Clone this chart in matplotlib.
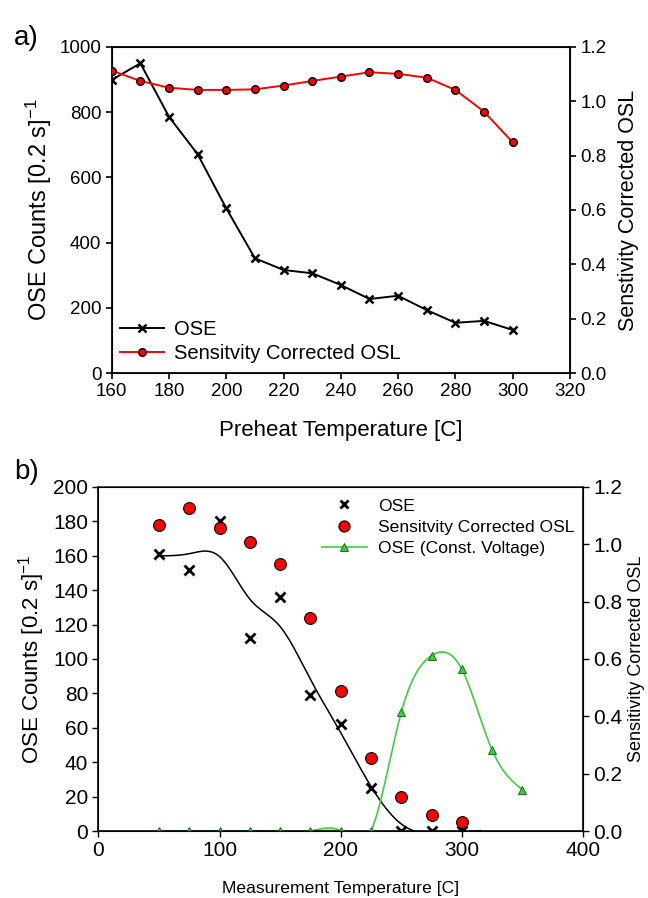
import numpy as np
import matplotlib
matplotlib.use('Agg')
import matplotlib.pyplot as plt
from matplotlib.lines import Line2D

plt.rcParams['font.family'] = ['Liberation Sans', 'DejaVu Sans']
plt.rcParams['mathtext.fontset'] = 'custom'
plt.rcParams['mathtext.rm'] = 'Liberation Sans'
plt.rcParams['mathtext.default'] = 'regular'

# ---------------- data: panel a ----------------
preheat_temp = [160, 170, 180, 190, 200, 210, 220, 230, 240, 250, 260, 270, 280, 290, 300]
ose_a = [899, 950, 786, 671, 505, 352, 316, 306, 270, 227, 237, 193, 154, 160, 132]
osl_a = [1.113, 1.075, 1.050, 1.042, 1.042, 1.044, 1.058, 1.075, 1.091, 1.107,
         1.101, 1.087, 1.042, 0.962, 0.849]

# ---------------- data: panel b ----------------
meas_temp = [50, 75, 100, 125, 150, 175, 200, 225, 250, 275, 300]
ose_b = [161, 152, 180, 112, 136, 79, 62, 25, 0, 0, 0]
osl_b = [1.067, 1.126, 1.058, 1.009, 0.932, 0.742, 0.488, 0.256, 0.120, 0.056, 0.030]
meas_temp_cv = [50, 75, 100, 125, 150, 175, 200, 225, 250, 275, 300, 325, 350]
ose_cv = [0, 0, 0, 0, 0, 0, 0, 0, 69, 102, 94, 47, 24]

xticks_a = [160, 180, 200, 220, 240, 260, 280, 300, 320]
yticks_a = [0, 200, 400, 600, 800, 1000]
y2ticks = [0.0, 0.2, 0.4, 0.6, 0.8, 1.0, 1.2]
xticks_b = [0, 100, 200, 300, 400]
yticks_b = [0, 20, 40, 60, 80, 100, 120, 140, 160, 180, 200]


def penalized_smooth(x, y, grid, lam):
    x = np.asarray(x, float)
    y = np.asarray(y, float)
    n = len(grid)
    W = np.zeros((len(x), n))
    for i, xi in enumerate(x):
        W[i, np.argmin(np.abs(grid - xi))] = 1.0
    D = np.diff(np.eye(n), 2, axis=0)
    A = W.T @ W + lam * D.T @ D
    return np.linalg.solve(A, W.T @ y)


def natural_cubic(x, y, xs):
    x = np.asarray(x, float)
    y = np.asarray(y, float)
    n = len(x)
    h = np.diff(x)
    A = np.zeros((n, n))
    b = np.zeros(n)
    A[0, 0] = A[-1, -1] = 1
    for i in range(1, n - 1):
        A[i, i - 1] = h[i - 1]
        A[i, i] = 2 * (h[i - 1] + h[i])
        A[i, i + 1] = h[i]
        b[i] = 3 * ((y[i + 1] - y[i]) / h[i] - (y[i] - y[i - 1]) / h[i - 1])
    c = np.linalg.solve(A, b)
    bc = (y[1:] - y[:-1]) / h - h * (2 * c[:-1] + c[1:]) / 3
    d = (c[1:] - c[:-1]) / (3 * h)
    idx = np.clip(np.searchsorted(x, xs) - 1, 0, n - 2)
    dx = xs - x[idx]
    return y[idx] + bc[idx] * dx + c[idx] * dx ** 2 + d[idx] * dx ** 3


fig = plt.figure(figsize=(6.48, 8.98), dpi=100)
green = '#3ccf3c'

# ================= panel a =================
ax1 = fig.add_axes([0.1724, 0.5846, 0.7072, 0.3631])
ax1.plot(preheat_temp, ose_a, color='black', lw=1.4, marker='x', ms=6, mew=1.8, zorder=3)
ax1.set_xlim(160, 320)
ax1.set_ylim(0, 1000)
ax1.set_xticks(xticks_a)
ax1.set_yticks(yticks_a)
ax1.tick_params(direction='out', length=4, width=1.2, labelsize=13.5)
ax1.set_xlabel('Preheat Temperature [C]', fontsize=16, labelpad=14)
ax1.set_ylabel('OSE Counts [0.2 s]$^{-1}$', fontsize=17, labelpad=4)
for s in ax1.spines.values():
    s.set_linewidth(1.3)

ax1r = ax1.twinx()
ax1r.plot(preheat_temp, osl_a, color='red', lw=1.4, marker='o', ms=5.5,
          mfc='red', mec='black', mew=1.0, zorder=3)
ax1r.set_ylim(0, 1.2)
ax1r.set_yticks(y2ticks)
ax1r.set_yticklabels([f'{v:.1f}' for v in y2ticks])
ax1r.tick_params(direction='out', length=4, width=1.2, labelsize=13.5)
ax1r.set_ylabel('Senstivity Corrected OSL', fontsize=15.5, labelpad=8)

h_a = [Line2D([], [], color='black', lw=1.4, marker='x', ms=6, mew=1.8),
       Line2D([], [], color='red', lw=1.4, marker='o', ms=5.5, mfc='red', mec='black', mew=1.0)]
ax1r.legend(h_a, ['OSE', 'Sensitvity Corrected OSL'], loc='lower left',
            bbox_to_anchor=(-0.022, -0.025), frameon=False, fontsize=14.5,
            handlelength=2.2, handletextpad=0.5, labelspacing=0.25)
fig.text(0.022, 0.958, 'a)', fontsize=20, ha='left', va='center')

# ================= panel b =================
ax2 = fig.add_axes([0.152, 0.0746, 0.7477, 0.3831])
grid = np.arange(50, 316, 1.0)
smooth = penalized_smooth(meas_temp, ose_b, grid, 2500.0)
ax2.plot(grid, smooth, color='black', lw=1.1, zorder=2)
gx = np.linspace(50, 350, 601)
ax2.plot(gx, natural_cubic(meas_temp_cv, ose_cv, gx), color=green, lw=1.2, zorder=2)
ax2.plot(meas_temp_cv, ose_cv, ls='none', marker='^', ms=5.5, mfc=green,
         mec='#1a6e1a', mew=0.7, zorder=3)
ax2.plot(meas_temp, ose_b, ls='none', marker='x', ms=6.5, mew=2.0, color='black', zorder=4)
ax2.set_xlim(0, 400)
ax2.set_ylim(0, 200)
ax2.set_xticks(xticks_b)
ax2.set_yticks(yticks_b)
ax2.tick_params(direction='out', length=4, width=1.0, labelsize=15)
ax2.set_xlabel('Measurement Temperature [C]', fontsize=12.6, labelpad=15)
ax2.set_ylabel('OSE Counts [0.2 s]$^{-1}$', fontsize=16, labelpad=4)
for s in ax2.spines.values():
    s.set_linewidth(1.2)
ax2.spines['top'].set_color('#333333')

ax2r = ax2.twinx()
ax2r.plot(meas_temp, osl_b, ls='none', marker='o', ms=8.5, mfc='red', mec='black', mew=0.8, zorder=3)
ax2r.set_ylim(0, 1.2)
ax2r.set_yticks(y2ticks)
ax2r.set_yticklabels([f'{v:.1f}' for v in y2ticks])
ax2r.tick_params(direction='out', length=4, width=1.0, labelsize=15)
ax2r.set_ylabel('Sensitivity Corrected OSL', fontsize=13, labelpad=4)

h_b = [Line2D([], [], ls='none', marker='x', ms=6, mew=2.0, color='black'),
       Line2D([], [], ls='none', marker='o', ms=8, mfc='red', mec='black', mew=0.8),
       Line2D([], [], color=green, lw=1.2, marker='^', ms=5.5, mfc=green, mec='#1a6e1a', mew=0.7)]
ax2r.legend(h_b, ['OSE', 'Sensitvity Corrected OSL', 'OSE (Const. Voltage)'],
            loc='upper right', bbox_to_anchor=(1.005, 1.0), frameon=False, fontsize=12.6,
            handlelength=2.6, handletextpad=0.6, labelspacing=0.35, borderaxespad=0.25)
fig.text(0.022, 0.474, 'b)', fontsize=20, ha='left', va='center')

fig.savefig('out.png', dpi=100)
